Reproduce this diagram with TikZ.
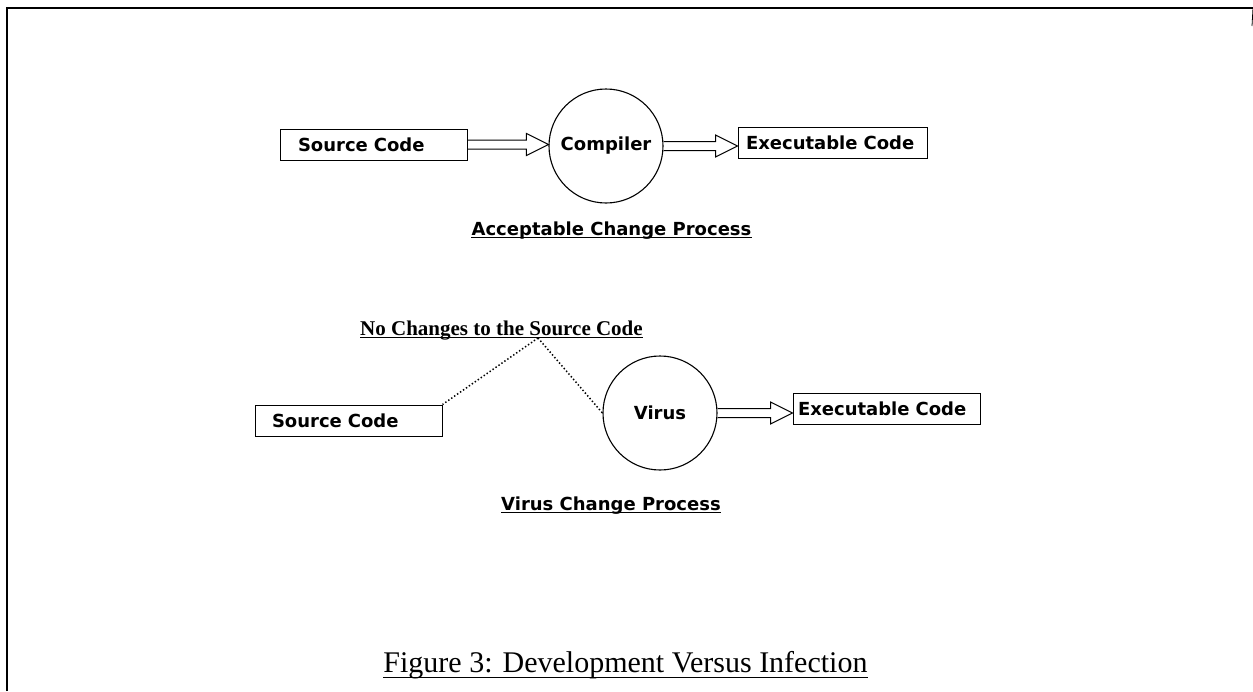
\documentclass[tikz,border=0pt]{standalone}
\usepackage{fontspec}
\setmainfont{Liberation Serif}
\newfontfamily\dvs{DejaVu Sans}
\usetikzlibrary{calc}
\begin{document}
\begin{tikzpicture}[x=1pt,y=-1pt,
  box/.style={draw, line width=1pt, minimum height=31pt, inner ysep=0pt, align=left,
              font=\dvs\bfseries\fontsize{18}{20}\selectfont},
  proc/.style={draw, circle, line width=1.1pt, minimum size=114pt, inner sep=0pt,
              font=\dvs\bfseries\fontsize{18}{20}\selectfont},
  lab/.style={inner sep=0pt, font=\dvs\bfseries\fontsize{18}{20}\selectfont},
  fat/.style={line width=1pt, to path={let \p1=(\tikztostart), \p2=(\tikztotarget) in
     (\x1,\y1+4.5pt) -- (\x2-22pt,\y1+4.5pt) -- (\x2-22pt,\y1+11pt) -- (\x2,\y1)
     -- (\x2-22pt,\y1-11pt) -- (\x2-22pt,\y1-4.5pt) -- (\x1,\y1-4.5pt)}},
  dots/.style={line width=1.5pt, dash pattern=on 1.4pt off 2.2pt},
  uline/.style={line width=1pt},
  frame/.style={line width=1.8pt}
]
\useasboundingbox (0,0) rectangle (1253,691);
% frame
\coordinate (fbl) at (7,691);
\coordinate (ftl) at (7,8);
\coordinate (ftr) at (1253,8);
\coordinate (frt) at (1252,26);
\draw[frame] (fbl) -- (ftl) -- (ftr);
\draw[line width=0.8pt] (ftr) -- (frt);

% top row
\node[box, inner xsep=18pt, text width=151pt] (sc1) at (373.5,144.5) {Source Code};
\node[proc] (comp) at (606,146) {Compiler};
\node[box, inner xsep=8pt, text width=173pt] (ex1) at (832.5,142.5) {Executable Code};
\draw[fat] (sc1.east) to (comp.west);
\draw[fat] (comp.east) to (ex1.west);
\node[lab, anchor=base] (acc) at (611.5,235) {Acceptable Change Process};
\draw[uline] ([yshift=-2.5pt]acc.base west) -- ([yshift=-2.5pt]acc.base east);

% bottom row
\node[inner sep=0pt, anchor=base, font=\bfseries\fontsize{21}{23}\selectfont] (noch) at (501.5,335) {No Changes to the Source Code};
\draw[uline] ([yshift=-2pt]noch.base west) -- ([yshift=-2pt]noch.base east);
\coordinate (apex) at (538,338);
\node[box, inner xsep=17pt, text width=153pt] (sc2) at (348.5,420.5) {Source Code};
\node[proc] (virus) at (660,413) {Virus};
\node[box, inner xsep=5pt, text width=177pt] (ex2) at (886.5,408.5) {Executable Code};
\draw[dots] (apex) -- (sc2.north east);
\draw[dots] (apex) -- (virus.west);
\draw[fat] (virus.east) to (ex2.west);
\node[lab, anchor=base] (vir) at (611,510) {Virus Change Process};
\draw[uline] ([yshift=-2.5pt]vir.base west) -- ([yshift=-2.5pt]vir.base east);

% caption
\node[inner sep=0pt, anchor=base, font=\fontsize{30}{34}\selectfont] (cap) at (625.5,672) {Figure 3: Development Versus Infection};
\draw[line width=1pt] ([yshift=-5pt]cap.base west) -- ([yshift=-5pt]cap.base east);
\end{tikzpicture}
\end{document}
